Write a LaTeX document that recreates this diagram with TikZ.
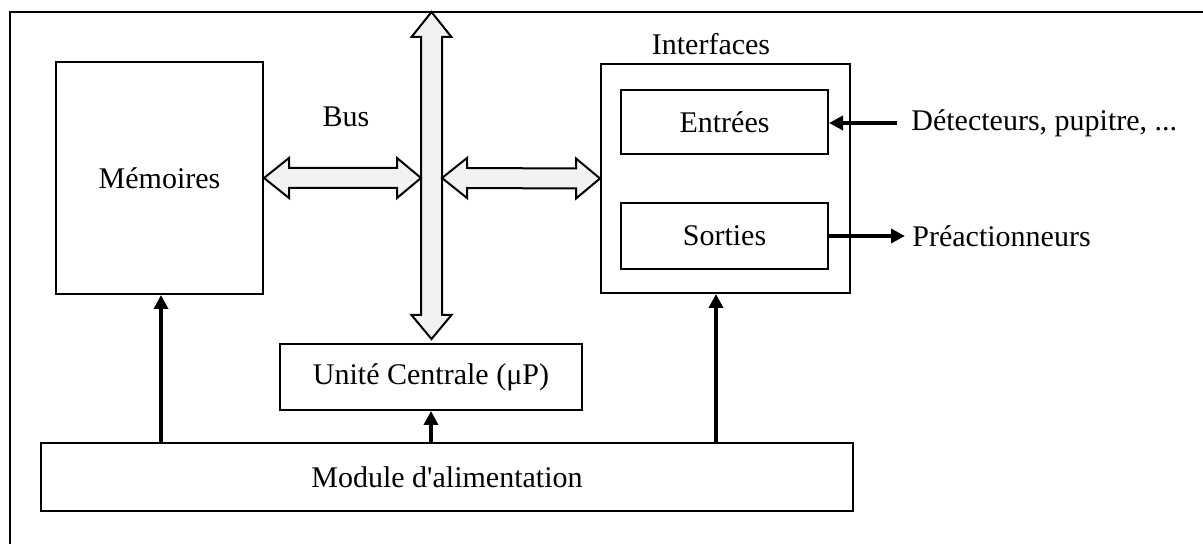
\documentclass[tikz,border=0pt]{standalone}
\usepackage{fontspec}
\setmainfont{Liberation Serif}
\usetikzlibrary{arrows.meta,calc}
\definecolor{busfill}{HTML}{F2F2F2}
\newcommand\hbusarrow[2]{%
  \filldraw[busarrow] (#1) -- ($(#1)+(25,-20)$) -- ($(#1)+(25,-10)$) -- ($(#2)+(-24,-10)$) -- ($(#2)+(-24,-20)$) -- (#2) -- ($(#2)+(-24,20)$) -- ($(#2)+(-24,10)$) -- ($(#1)+(25,10)$) -- ($(#1)+(25,20)$) -- cycle;}
\begin{document}
\begin{tikzpicture}[x=0.5pt,y=-0.5pt,
  every node/.style={font=\fontsize{15}{18}\selectfont},
  box/.style={draw,line width=1pt,rectangle,inner sep=0pt},
  busarrow/.style={draw,fill=busfill,line width=1pt,line join=miter},
  pwr/.style={line width=2pt,-{Triangle[length=7pt,width=7pt]}},
  lbl/.style={inner sep=0pt}]
\useasboundingbox (0,0) rectangle (1203,544);
% outer frame (top and left sides)
\draw[line width=1.2pt] (10,544) -- (10,12) -- (1203,12);
% blocks
\node[box,minimum width=103.5pt,minimum height=116pt] (mem) at (159.5,178) {Mémoires};
\node[box,minimum width=124.5pt,minimum height=114.5pt] (iface) at (725.5,178.5) {};
\node[box,minimum width=103.5pt,minimum height=32pt] (ent) at (724.5,122) {Entrées};
\node[box,minimum width=103.5pt,minimum height=33pt] (sor) at (724.5,236) {Sorties};
\node[box,minimum width=151pt,minimum height=33pt] (uc) at (431,377) {Unité Centrale (μP)};
\node[box,minimum width=406pt,minimum height=34pt] (mod) at (447,477) {Module d\textquotesingle alimentation};
% labels
\node[lbl] (ifl) at (711,44) {Interfaces};
\node[lbl] (busl) at (346,117) {Bus};
\node[anchor=west,inner xsep=7pt,inner ysep=0pt] (det) at (897,123) {Détecteurs, pupitre, ...};
\node[anchor=west,inner xsep=3.5pt,inner ysep=0pt] (pre) at (905,236) {Préactionneurs};
% bus
\coordinate (busT) at (431.5,12);
\coordinate (busB) at ($(uc.north)+(0.5,-4)$);
\coordinate (busL) at (421,178);
\coordinate (busR) at (442,178);
\filldraw[busarrow] (busT) -- ($(busT)+(20,25)$) -- ($(busT)+(10.5,25)$) -- ($(busB)+(10.5,-24)$) -- ($(busB)+(20,-24)$) -- (busB) -- ($(busB)+(-20,-24)$) -- ($(busB)+(-10.5,-24)$) -- ($(busT)+(-10.5,25)$) -- ($(busT)+(-20,25)$) -- cycle;
\hbusarrow{mem.east}{busL}
\hbusarrow{busR}{iface.west}
% power and signal arrows
\coordinate (pm) at (161,443);
\coordinate (pi) at (716,443);
\draw[pwr] (pm) -- (pm |- mem.south);
\draw[pwr] (uc.south |- mod.north) -- (uc.south);
\draw[pwr] (pi) -- (pi |- iface.south);
\draw[pwr] (det.west) -- (ent.east |- det.west);
\draw[pwr] (sor.east) -- (sor.east -| pre.west);
\end{tikzpicture}
\end{document}
